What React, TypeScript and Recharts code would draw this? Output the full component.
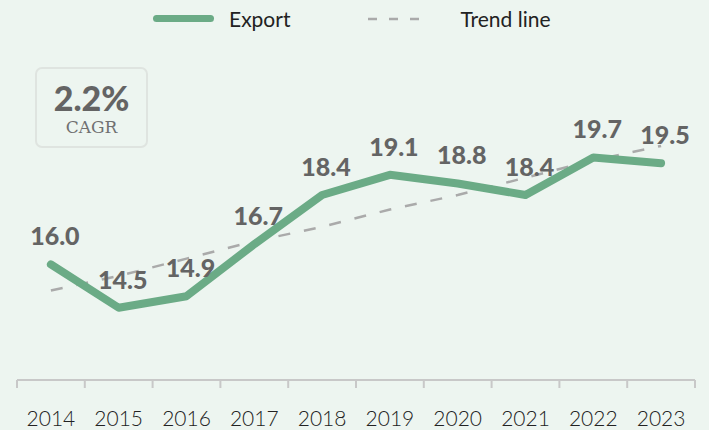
import React from 'react';
import { LineChart, Line, XAxis, YAxis, LabelList } from 'recharts';

const years = ['2014', '2015', '2016', '2017', '2018', '2019', '2020', '2021', '2022', '2023'];
const exportValues = [16.0, 14.5, 14.9, 16.7, 18.4, 19.1, 18.8, 18.4, 19.7, 19.5];
const trendValues = [15.1, 15.6, 16.2, 16.8, 17.3, 17.9, 18.4, 19.0, 19.6, 20.1];
const boundaryTicks = [-0.5, 0.5, 1.5, 2.5, 3.5, 4.5, 5.5, 6.5, 7.5, 8.5, 9.5];
const labelTicks = [0, 1, 2, 3, 4, 5, 6, 7, 8, 9];

const GREEN = '#6bab86';
const LABEL_GREY = '#646464';
const BG = '#edf5f0';
const FONT = 'Lato, "Noto Sans", sans-serif';

const chartData = years.map((year, i) => ({
  idx: i,
  year,
  exportValue: exportValues[i],
  trend: trendValues[i],
}));

// axis ticks: marks at band edges, year labels at band centres
const AxisTick = (props: any) => {
  const { x, y, payload } = props;
  const v = payload.value as number;
  if (!Number.isInteger(v)) {
    return <line x1={x} x2={x} y1={y} y2={y + 8} stroke="#c8c8c8" strokeWidth={2} />;
  }
  return (
    <text x={x} y={y + 46} textAnchor="middle" fontSize={21} fill="#222" fontFamily={FONT} fontWeight={300}>
      {years[v]}
    </text>
  );
};

export default function App() {
  return (
    <div style={{ position: 'relative', width: 709, height: 430, background: BG, fontFamily: FONT }}>
      <style>{'body{margin:0}'}</style>

      {/* legend */}
      <div style={{ position: 'absolute', top: 6, left: 153, display: 'flex', alignItems: 'center', fontSize: 21, color: '#222' }}>
        <span style={{ width: 61, height: 7, borderRadius: 4, background: GREEN, display: 'inline-block' }} />
        <span style={{ marginLeft: 15 }}>Export</span>
        <svg width={56} height={8} style={{ marginLeft: 78 }}>
          <line x1={0} x2={56} y1={4} y2={4} stroke="#aaa" strokeWidth={2.5} strokeDasharray="9 12" />
        </svg>
        <span style={{ marginLeft: 36 }}>Trend line</span>
      </div>

      {/* CAGR badge */}
      <div
        style={{
          position: 'absolute', left: 35, top: 67, width: 109, height: 77,
          border: '2px solid #dfe4e0', borderRadius: 7, textAlign: 'center', color: LABEL_GREY,
        }}
      >
        <div style={{ fontSize: 34, fontWeight: 900, marginTop: 10, lineHeight: '38px' }}>2.2%</div>
        <div style={{ fontSize: 17, fontFamily: '"DejaVu Serif", serif', color: '#707070' }}>CAGR</div>
      </div>

      <div style={{ position: 'absolute', left: 0, top: 0 }}>
        <LineChart width={709} height={430} data={chartData} margin={{ top: 91, right: 14, bottom: 0, left: 17 }}>
          <XAxis
            dataKey="idx"
            type="number"
            domain={[-0.5, 9.5]}
            ticks={[...boundaryTicks, ...labelTicks]}
            interval={0}
            tick={<AxisTick />}
            tickLine={false}
            tickSize={0}
            tickMargin={0}
            axisLine={{ stroke: '#c8c8c8', strokeWidth: 2 }}
            height={50}
          />
          <YAxis hide domain={[12, 22]} />
          <Line
            dataKey="trend"
            stroke="#aaaaaa"
            strokeWidth={2.5}
            strokeDasharray="12 14"
            dot={false}
            isAnimationActive={false}
          />
          <Line
            dataKey="exportValue"
            stroke={GREEN}
            strokeWidth={8}
            strokeLinecap="round"
            strokeLinejoin="round"
            dot={false}
            isAnimationActive={false}
          >
            <LabelList
              dataKey="exportValue"
              position="top"
              offset={19}
              dx={4}
              fontSize={25}
              fontWeight={900}
              fill={LABEL_GREY}
              fontFamily={FONT}
              formatter={(v: any) => Number(v).toFixed(1)}
            />
          </Line>
        </LineChart>
      </div>
    </div>
  );
}
